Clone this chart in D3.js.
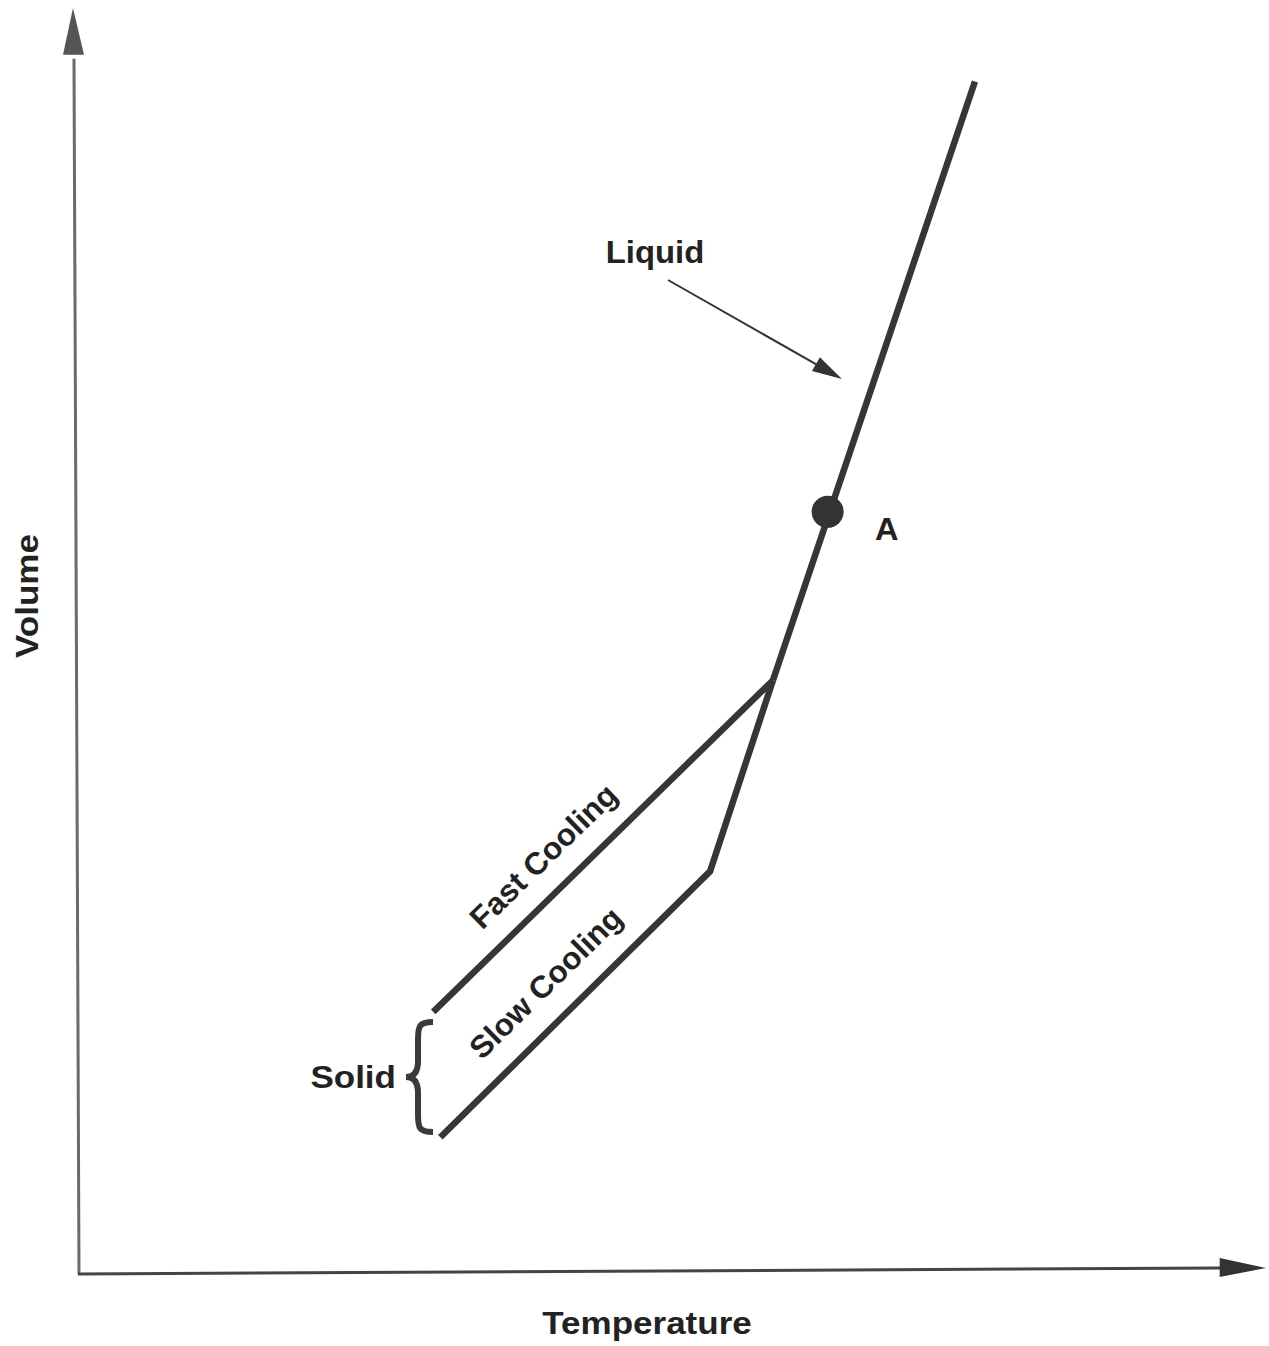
<!DOCTYPE html>
<html>
<head>
<meta charset="utf-8">
<script src="https://cdn.jsdelivr.net/npm/d3@7"></script>
<style>
  body { margin: 0; background: #fff; }
  text { font-family: "Liberation Sans", Arial, sans-serif; font-weight: bold; fill: #222; }
</style>
</head>
<body>
<div id="chart"></div>
<script>
// schematic volume-temperature curve (arbitrary units 0..100)
const liquidT = [75.5, 58.5];
const liquidV = [94.2, 46.9];
const fastT = [58.5, 29.9];
const fastV = [46.9, 20.7];
const slowT = [58.5, 53.2, 30.5];
const slowV = [46.9, 31.8, 10.8];
const pointA = {t: 63.1, v: 60.2, label: "A"};

const width = 1269;
const height = 1346;

const svg = d3.select('#chart')
  .append('svg')
  .attr('width', width)
  .attr('height', height);

const x = d3.scaleLinear().domain([0, 100]).range([78, 1266]);
const y = d3.scaleLinear().domain([0, 100]).range([1274, 8]);

const lineColor = '#363636';
const axisColor = '#6a6a6a';

// axes with arrow heads (the original is slightly skewed)
svg.append('line')
  .attr('x1', x(0) + 1).attr('y1', y(0))
  .attr('x2', x(0) - 4).attr('y2', y(96))
  .attr('stroke', axisColor).attr('stroke-width', 3);
svg.append('path')
  .attr('d', `M${x(0) - 5},${y(100)} L${x(0) - 15},${y(96.3)} L${x(0) + 6},${y(96.3)} Z`)
  .attr('fill', '#555');

svg.append('line')
  .attr('x1', x(0)).attr('y1', y(0))
  .attr('x2', x(96.2)).attr('y2', y(0) - 6)
  .attr('stroke', '#444').attr('stroke-width', 3);
svg.append('path')
  .attr('d', `M${x(100)},${y(0) - 6} L${x(96.1)},${y(0) - 16} L${x(96.1)},${y(0) + 3} Z`)
  .attr('fill', '#333');

const line = d3.line()
  .x(d => x(d[0]))
  .y(d => y(d[1]));

function draw(ts, vs) {
  svg.append('path')
    .datum(ts.map((t, i) => [t, vs[i]]))
    .attr('d', line)
    .attr('fill', 'none')
    .attr('stroke', lineColor)
    .attr('stroke-width', 6.5)
    .attr('stroke-linejoin', 'miter');
}
draw(liquidT, liquidV);
draw(fastT, fastV);
draw(slowT, slowV);

// wide label helper (the original lettering is a stretched Helvetica)
function label(px, py, rot, anchor, txt, sx) {
  svg.append('text')
    .attr('transform', `translate(${px},${py}) rotate(${rot}) scale(${sx},1)`)
    .attr('text-anchor', anchor)
    .attr('font-size', 31)
    .text(txt);
}

// point A
svg.append('circle')
  .attr('cx', x(pointA.t)).attr('cy', y(pointA.v))
  .attr('r', 16)
  .attr('fill', '#333');
label(x(pointA.t) + 59, y(pointA.v) + 28, 0, 'middle', pointA.label, 1.05);

// Liquid label + arrow
label(655, 263, 0, 'middle', 'Liquid', 1.06);
const ax1 = 668, ay1 = 280, ax2 = 842, ay2 = 379;
const ang = Math.atan2(ay2 - ay1, ax2 - ax1);
svg.append('line')
  .attr('x1', ax1).attr('y1', ay1)
  .attr('x2', ax2 - 20 * Math.cos(ang)).attr('y2', ay2 - 20 * Math.sin(ang))
  .attr('stroke', '#333').attr('stroke-width', 2);
svg.append('path')
  .attr('d', 'M0,0 L-30,-8 L-30,8 Z')
  .attr('transform', `translate(${ax2},${ay2}) rotate(${ang * 180 / Math.PI})`)
  .attr('fill', '#333');

// rotated line labels
function slopeLabel(ts, vs, t, v, txt) {
  const a = Math.atan2(y(vs[1]) - y(vs[0]), x(ts[1]) - x(ts[0])) * 180 / Math.PI;
  label(x(t), y(v), a, 'middle', txt, 1.02);
}
slopeLabel([fastT[1], fastT[0]], [fastV[1], fastV[0]], 39.8, 32.4, 'Fast Cooling');
slopeLabel([slowT[2], slowT[1]], [slowV[2], slowV[1]], 40.0, 22.4, 'Slow Cooling');

// Solid brace
const bx = 433, by1 = 1022, by2 = 1132, bm = 1077;
svg.append('path')
  .attr('d', `M${bx},${by1} C${bx - 14},${by1} ${bx - 15},${by1 + 4} ${bx - 15},${by1 + 18}
              L${bx - 15},${bm - 16} C${bx - 15},${bm - 4} ${bx - 20},${bm} ${bx - 27},${bm}
              C${bx - 20},${bm} ${bx - 15},${bm + 4} ${bx - 15},${bm + 16}
              L${bx - 15},${by2 - 18} C${bx - 15},${by2 - 4} ${bx - 14},${by2} ${bx},${by2}`)
  .attr('fill', 'none')
  .attr('stroke', '#3a3a3a')
  .attr('stroke-width', 6);
label(396, 1088, 0, 'end', 'Solid', 1.13);

// axis titles
label(647, 1334, 0, 'middle', 'Temperature', 1.13);
label(38, 596, -90, 'middle', 'Volume', 1.13);
</script>
</body>
</html>
